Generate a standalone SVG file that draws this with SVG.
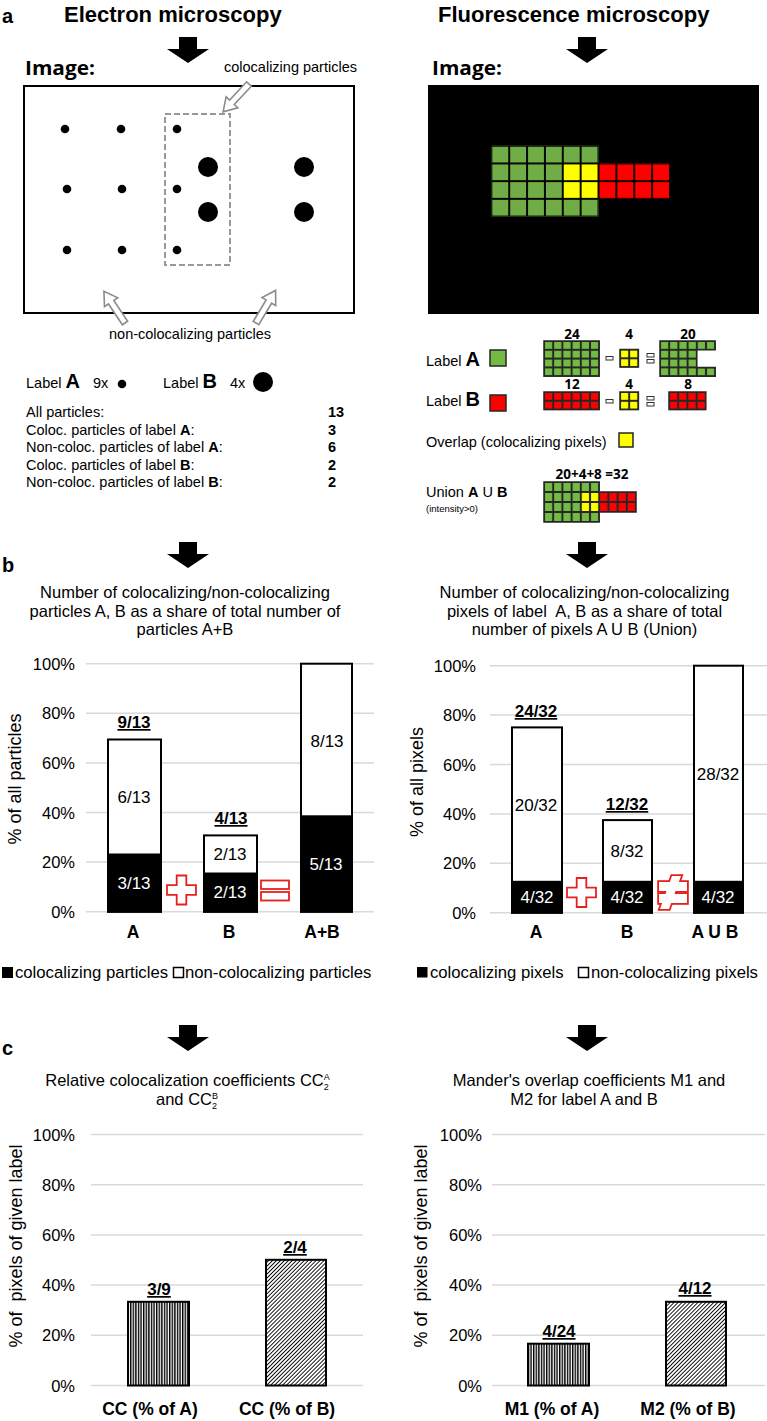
<svg xmlns="http://www.w3.org/2000/svg" width="767" height="1421" viewBox="0 0 767 1421">
<style>
text{font-family:'Liberation Sans',Arial,Helvetica,sans-serif;fill:#000}
.hd{font-size:22px;font-weight:bold}
.lt{font-size:20px;font-weight:bold}
.img{font-family:'Open Sans','Liberation Sans',sans-serif;font-size:19px;font-weight:bold}
.cal{font-family:'Open Sans','Liberation Sans',sans-serif;font-size:13.5px;font-weight:bold;text-anchor:middle}
.s14{font-size:14.5px}
.ttl{font-size:16.5px;text-anchor:middle}
.tick{font-size:16.5px;text-anchor:end}
.yt{font-size:18px;text-anchor:middle}
.dl{font-size:17px;text-anchor:middle}
.w{fill:#fff}
.top{font-size:17px;font-weight:bold;text-anchor:middle;text-decoration:underline}
.xl{font-size:17.5px;font-weight:bold;text-anchor:middle}
.leg{font-size:16.7px}
.gl{stroke:#d9d9d9;stroke-width:1.5}
.bar{stroke:#000;stroke-width:2}
.pt{fill:#fff;stroke:#8c8c8c;stroke-width:1.6}
.red{fill:#fff;stroke:#e8201c;stroke-width:1.8}
.ob{fill:none;stroke:#262626;stroke-width:1.5}
.sq{stroke:#262626;stroke-width:1.5}
.op{fill:#fff;stroke:#333;stroke-width:1}
.gA{fill:#74BB44}
.rB{fill:#FF0000}
.yO{fill:#FFFF00}
</style>
<defs>
<path id="bigArrow" d="M-9,0 H9 V12 H21 L0,26 L-21,12 H-9 Z" fill="#000"/>
<polygon id="hollow" points="0,-3.2 25,-3.2 25,-8 38,0 25,8 25,3.2 0,3.2"/>
<polygon id="plus" points="-4.8,-14.5 4.8,-14.5 4.8,-4.8 14.5,-4.8 14.5,4.8 4.8,4.8 4.8,14.5 -4.8,14.5 -4.8,4.8 -14.5,4.8 -14.5,-4.8 -4.8,-4.8"/>
<pattern id="pg" width="9.2" height="8.8" patternUnits="userSpaceOnUse"><rect width="9.2" height="8.8" fill="none" stroke="#262626" stroke-width="2"/></pattern>
<pattern id="pu" width="9.2" height="10" patternUnits="userSpaceOnUse"><rect width="9.2" height="10" fill="none" stroke="#262626" stroke-width="2"/></pattern>
<pattern id="pim" width="17.86" height="17.7" patternUnits="userSpaceOnUse"><rect width="17.86" height="17.7" fill="none" stroke="#000" stroke-width="1.9"/></pattern>
<pattern id="vs" width="2.6" height="10" patternUnits="userSpaceOnUse"><rect width="1.4" height="10" fill="#000"/></pattern>
<pattern id="ds" width="2.8" height="2.8" patternUnits="userSpaceOnUse" patternTransform="rotate(45)"><rect width="0.9" height="2.8" fill="#000"/></pattern>
</defs>

<g id="headings">
<text class="lt" x="2" y="23">a</text>
<text class="hd" x="64" y="22">Electron microscopy</text>
<text class="hd" x="438" y="22">Fluorescence microscopy</text>
<text class="lt" x="2" y="572">b</text>
<text class="lt" x="2" y="1055">c</text>
</g>

<g id="flow-arrows">
<use href="#bigArrow" transform="translate(188,37)"/>
<use href="#bigArrow" transform="translate(587,37)"/>
<use href="#bigArrow" transform="translate(188,542)"/>
<use href="#bigArrow" transform="translate(587,542)"/>
<use href="#bigArrow" transform="translate(188,1025)"/>
<use href="#bigArrow" transform="translate(587,1025)"/>
</g>

<g id="em-image">
<text class="img" x="25" y="75" textLength="70" lengthAdjust="spacingAndGlyphs">Image:</text>
<text class="s14" x="224" y="72">colocalizing particles</text>
<rect x="24" y="86" width="330" height="227" fill="#fff" stroke="#000" stroke-width="2"/>
<rect x="165" y="114" width="65" height="151" fill="none" stroke="#999" stroke-width="2" stroke-dasharray="6 3"/>
<g fill="#000">
<circle cx="65" cy="129" r="4.3"/><circle cx="121" cy="129" r="4.3"/><circle cx="177" cy="129" r="4.3"/>
<circle cx="67" cy="189" r="4.3"/><circle cx="122" cy="189" r="4.3"/><circle cx="177" cy="189" r="4.3"/>
<circle cx="67" cy="250" r="4.3"/><circle cx="122" cy="250" r="4.3"/><circle cx="177" cy="250" r="4.3"/>
<circle cx="208" cy="167" r="10"/><circle cx="208" cy="212" r="10"/>
<circle cx="304" cy="167" r="10"/><circle cx="304" cy="212" r="10"/>
</g>
<use href="#hollow" class="pt" transform="translate(249,84) rotate(133)"/>
<use href="#hollow" class="pt" transform="translate(125,323) rotate(-123.7)"/>
<use href="#hollow" class="pt" transform="translate(256,323) rotate(-59)"/>
<text class="s14" x="109" y="339">non-colocalizing particles</text>
</g>

<g id="em-legend">
<text class="s14" x="26" y="388">Label <tspan font-size="20" font-weight="bold">A</tspan></text>
<text class="s14" x="93" y="388">9x</text>
<circle cx="122" cy="384" r="4.3"/>
<text class="s14" x="163" y="388">Label <tspan font-size="20" font-weight="bold">B</tspan></text>
<text class="s14" x="230" y="388">4x</text>
<circle cx="263" cy="382" r="10"/>
<text class="s14" x="26" y="417">All particles:</text>
<text class="s14" x="26" y="434.5">Coloc. particles of label <tspan font-weight="bold">A</tspan>:</text>
<text class="s14" x="26" y="452">Non-coloc. particles of label <tspan font-weight="bold">A</tspan>:</text>
<text class="s14" x="26" y="469.5">Coloc. particles of label <tspan font-weight="bold">B</tspan>:</text>
<text class="s14" x="26" y="487">Non-coloc. particles of label <tspan font-weight="bold">B</tspan>:</text>
<g font-weight="bold">
<text class="s14" x="328" y="417">13</text>
<text class="s14" x="328" y="434.5">3</text>
<text class="s14" x="328" y="452">6</text>
<text class="s14" x="328" y="469.5">2</text>
<text class="s14" x="328" y="487">2</text>
</g>
</g>

<g id="fm-image">
<text class="img" x="432" y="75" textLength="70" lengthAdjust="spacingAndGlyphs">Image:</text>
<rect x="428" y="85" width="331" height="229" fill="#000"/>
<g transform="translate(491.35,145.75)">
<rect x="0" y="0" width="107.16" height="70.8" fill="#70AD47"/>
<rect x="71.44" y="17.7" width="35.72" height="35.4" fill="#FFFF00"/>
<rect x="107.16" y="17.7" width="71.44" height="35.4" fill="#FF0000"/>
<path d="M0,0 H107.16 V17.7 H178.6 V53.1 H107.16 V70.8 H0 Z" fill="url(#pim)"/>
</g>
</g>

<g id="fm-legend">
<text class="s14" x="426" y="366">Label <tspan font-size="20" font-weight="bold">A</tspan></text>
<rect x="490" y="350" width="16" height="16" class="gA sq"/>
<text class="s14" x="426" y="406">Label <tspan font-size="20" font-weight="bold">B</tspan></text>
<rect x="490" y="395" width="16" height="16" class="rB sq"/>
<text class="s14" x="426" y="447">Overlap (colocalizing pixels)</text>
<rect x="619" y="433" width="14" height="14" class="yO sq"/>
<text class="s14" x="426" y="497">Union <tspan font-weight="bold">A</tspan> U <tspan font-weight="bold">B</tspan></text>
<text x="426" y="512" font-size="9.5">(intensity&gt;0)</text>

<text class="cal" x="572" y="339">24</text>
<text class="cal" x="629" y="339">4</text>
<text class="cal" x="688" y="339">20</text>
<text class="cal" x="572" y="389">12</text>
<text class="cal" x="629" y="389">4</text>
<text class="cal" x="688" y="389">8</text>
<text class="cal" x="592" y="479">20+4+8 =32</text>

<g transform="translate(544,341)">
<rect width="55.2" height="35.2" class="gA"/><rect width="55.2" height="35.2" fill="url(#pg)"/><rect width="55.2" height="35.2" class="ob"/>
</g>
<rect x="606" y="356.5" width="7" height="3.5" class="op"/>
<g transform="translate(620,349.5)">
<rect width="18.4" height="17.6" class="yO"/><rect width="18.4" height="17.6" fill="url(#pg)"/><rect width="18.4" height="17.6" class="ob"/>
</g>
<rect x="647" y="353.5" width="7" height="3.5" class="op"/>
<rect x="647" y="359.5" width="7" height="3.5" class="op"/>
<g transform="translate(660,341)">
<path d="M0,0 H55.2 V8.8 H36.8 V26.4 H55.2 V35.2 H0 Z" class="gA"/>
<path d="M0,0 H55.2 V8.8 H36.8 V26.4 H55.2 V35.2 H0 Z" fill="url(#pg)"/>
<path d="M0,0 H55.2 V8.8 H36.8 V26.4 H55.2 V35.2 H0 Z" class="ob"/>
</g>

<g transform="translate(544,392)">
<rect width="55.2" height="17.6" class="rB"/><rect width="55.2" height="17.6" fill="url(#pg)"/><rect width="55.2" height="17.6" class="ob"/>
</g>
<rect x="606" y="399.5" width="7" height="3.5" class="op"/>
<g transform="translate(620,392)">
<rect width="18.4" height="17.6" class="yO"/><rect width="18.4" height="17.6" fill="url(#pg)"/><rect width="18.4" height="17.6" class="ob"/>
</g>
<rect x="647" y="396.5" width="7" height="3.5" class="op"/>
<rect x="647" y="402.5" width="7" height="3.5" class="op"/>
<g transform="translate(669,392)">
<rect width="36.8" height="17.6" class="rB"/><rect width="36.8" height="17.6" fill="url(#pg)"/><rect width="36.8" height="17.6" class="ob"/>
</g>

<g transform="translate(544,482)">
<rect width="55.2" height="40" class="gA"/>
<rect x="36.8" y="10" width="18.4" height="20" class="yO"/>
<rect x="55.2" y="10" width="36.8" height="20" class="rB"/>
<path d="M0,0 H55.2 V10 H92 V30 H55.2 V40 H0 Z" fill="url(#pu)"/>
<path d="M0,0 H55.2 V10 H92 V30 H55.2 V40 H0 Z" class="ob"/>
</g>
</g>

<g id="chart-b-left">
<text class="ttl" x="185" y="598.3">Number of colocalizing/non-colocalizing</text>
<text class="ttl" x="185" y="616.7">particles A, B as a share of total number of</text>
<text class="ttl" x="185" y="635">particles A+B</text>
<g class="gl">
<line x1="86" y1="663.7" x2="374" y2="663.7"/><line x1="86" y1="713.3" x2="374" y2="713.3"/>
<line x1="86" y1="762.9" x2="374" y2="762.9"/><line x1="86" y1="812.5" x2="374" y2="812.5"/>
<line x1="86" y1="862.1" x2="374" y2="862.1"/><line x1="86" y1="911.7" x2="374" y2="911.7"/>
</g>
<text class="tick" x="75" y="669.7">100%</text><text class="tick" x="75" y="719.3">80%</text>
<text class="tick" x="75" y="768.9">60%</text><text class="tick" x="75" y="818.5">40%</text>
<text class="tick" x="75" y="868.1">20%</text><text class="tick" x="75" y="917.7">0%</text>
<text class="yt" transform="translate(21,779) rotate(-90)">% of all particles</text>
<rect x="108" y="739.5" width="53" height="172.2" fill="#fff" class="bar"/>
<rect x="108" y="854.5" width="53" height="57.2" fill="#000" class="bar"/>
<rect x="204" y="835.4" width="53" height="76.3" fill="#fff" class="bar"/>
<rect x="204" y="873.5" width="53" height="38.2" fill="#000" class="bar"/>
<rect x="301" y="663.7" width="51" height="248" fill="#fff" class="bar"/>
<rect x="301" y="816.3" width="51" height="95.4" fill="#000" class="bar"/>
<text class="top" x="134" y="728">9/13</text>
<text class="dl" x="134" y="803">6/13</text>
<text class="dl w" x="134" y="889">3/13</text>
<text class="top" x="231" y="824">4/13</text>
<text class="dl" x="230" y="860">2/13</text>
<text class="dl w" x="230" y="898">2/13</text>
<text class="dl" x="327" y="747">8/13</text>
<text class="dl w" x="326" y="870">5/13</text>
<use href="#plus" class="red" transform="translate(181.5,890)"/>
<rect x="261" y="880.5" width="28" height="8.5" class="red"/>
<rect x="261" y="892" width="28" height="8.5" class="red"/>
<text class="xl" x="133" y="938">A</text>
<text class="xl" x="229" y="938">B</text>
<text class="xl" x="322" y="938">A+B</text>
<rect x="2" y="967" width="11" height="11" fill="#000"/>
<text class="leg" x="15" y="978">colocalizing particles</text>
<rect x="173.5" y="967.5" width="10" height="10" fill="#fff" stroke="#000" stroke-width="1.5"/>
<text class="leg" x="185" y="978">non-colocalizing particles</text>
</g>

<g id="chart-b-right">
<text class="ttl" x="584.5" y="598.3">Number of colocalizing/non-colocalizing</text>
<text class="ttl" x="584.5" y="616.7" style="white-space:pre">pixels of label  A, B as a share of total</text>
<text class="ttl" x="584.5" y="635">number of pixels A U B (Union)</text>
<g class="gl">
<line x1="490" y1="665.7" x2="767" y2="665.7"/><line x1="490" y1="715.1" x2="767" y2="715.1"/>
<line x1="490" y1="764.5" x2="767" y2="764.5"/><line x1="490" y1="813.9" x2="767" y2="813.9"/>
<line x1="490" y1="863.3" x2="767" y2="863.3"/><line x1="490" y1="912.7" x2="767" y2="912.7"/>
</g>
<text class="tick" x="476" y="671.7">100%</text><text class="tick" x="476" y="721.1">80%</text>
<text class="tick" x="476" y="770.5">60%</text><text class="tick" x="476" y="819.9">40%</text>
<text class="tick" x="476" y="869.3">20%</text><text class="tick" x="476" y="918.7">0%</text>
<text class="yt" transform="translate(423,782) rotate(-90)">% of all pixels</text>
<rect x="512" y="727.4" width="50" height="185.3" fill="#fff" class="bar"/>
<rect x="512" y="881.8" width="50" height="30.9" fill="#000" class="bar"/>
<rect x="603" y="820.1" width="49" height="92.6" fill="#fff" class="bar"/>
<rect x="603" y="881.8" width="49" height="30.9" fill="#000" class="bar"/>
<rect x="694" y="665.7" width="49" height="247" fill="#fff" class="bar"/>
<rect x="694" y="881.8" width="49" height="30.9" fill="#000" class="bar"/>
<text class="top" x="536" y="717">24/32</text>
<text class="dl" x="536" y="811">20/32</text>
<text class="dl w" x="537" y="903">4/32</text>
<text class="top" x="627" y="810">12/32</text>
<text class="dl" x="627" y="857">8/32</text>
<text class="dl w" x="627" y="903">4/32</text>
<text class="dl" x="718" y="780">28/32</text>
<text class="dl w" x="718" y="903">4/32</text>
<use href="#plus" class="red" transform="translate(581.5,892.5)"/>
<g stroke="#e8201c" stroke-width="3.6" fill="#e8201c">
<rect x="659" y="882" width="28" height="9"/>
<rect x="659" y="894" width="28" height="9"/>
<polygon points="672,876 681,876 669,909 660,909"/>
</g>
<g fill="#fff">
<rect x="659" y="882" width="28" height="9"/>
<rect x="659" y="894" width="28" height="9"/>
<polygon points="672,876 681,876 669,909 660,909"/>
</g>
<text class="xl" x="536" y="938">A</text>
<text class="xl" x="627" y="938">B</text>
<text class="xl" x="715" y="938">A U B</text>
<rect x="417" y="967" width="10.5" height="10.5" fill="#000"/>
<text class="leg" x="430" y="978">colocalizing pixels</text>
<rect x="578.5" y="967.5" width="10" height="10" fill="#fff" stroke="#000" stroke-width="1.5"/>
<text class="leg" x="591" y="978">non-colocalizing pixels</text>
</g>

<g id="chart-c-left">
<text class="ttl" x="187.5" y="1086">Relative colocalization coefficients CC<tspan font-size="9" dy="-6">A</tspan><tspan font-size="9" dx="-6" dy="10">2</tspan></text>
<text class="ttl" x="187" y="1105">and CC<tspan font-size="9" dy="-6">B</tspan><tspan font-size="9" dx="-6" dy="10">2</tspan></text>
<g class="gl">
<line x1="91" y1="1134.5" x2="363" y2="1134.5"/><line x1="91" y1="1184.7" x2="363" y2="1184.7"/>
<line x1="91" y1="1234.9" x2="363" y2="1234.9"/><line x1="91" y1="1285.1" x2="363" y2="1285.1"/>
<line x1="91" y1="1335.3" x2="363" y2="1335.3"/><line x1="91" y1="1385.5" x2="363" y2="1385.5"/>
</g>
<text class="tick" x="75" y="1140.5">100%</text><text class="tick" x="75" y="1190.7">80%</text>
<text class="tick" x="75" y="1240.9">60%</text><text class="tick" x="75" y="1291.1">40%</text>
<text class="tick" x="75" y="1341.3">20%</text><text class="tick" x="75" y="1391.5">0%</text>
<text class="yt" style="white-space:pre" transform="translate(22,1246) rotate(-90)">% of  pixels of given label</text>
<rect x="128" y="1301.8" width="61" height="83.7" fill="#fff"/>
<rect x="128" y="1301.8" width="61" height="83.7" fill="url(#vs)" class="bar"/>
<rect x="266" y="1259.8" width="60" height="125.7" fill="#fff"/>
<rect x="266" y="1259.8" width="60" height="125.7" fill="url(#ds)" class="bar"/>
<text class="top" x="159" y="1295">3/9</text>
<text class="top" x="295" y="1253">2/4</text>
<text class="xl" x="150" y="1415">CC (% of A)</text>
<text class="xl" x="287" y="1415">CC (% of B)</text>
</g>

<g id="chart-c-right">
<text class="ttl" x="589" y="1086">Mander's overlap coefficients M1 and</text>
<text class="ttl" x="584" y="1105">M2 for label A and B</text>
<g class="gl">
<line x1="492" y1="1134.5" x2="765" y2="1134.5"/><line x1="492" y1="1184.7" x2="765" y2="1184.7"/>
<line x1="492" y1="1234.9" x2="765" y2="1234.9"/><line x1="492" y1="1285.1" x2="765" y2="1285.1"/>
<line x1="492" y1="1335.3" x2="765" y2="1335.3"/><line x1="492" y1="1385.5" x2="765" y2="1385.5"/>
</g>
<text class="tick" x="482" y="1140.5">100%</text><text class="tick" x="482" y="1190.7">80%</text>
<text class="tick" x="482" y="1240.9">60%</text><text class="tick" x="482" y="1291.1">40%</text>
<text class="tick" x="482" y="1341.3">20%</text><text class="tick" x="482" y="1391.5">0%</text>
<text class="yt" style="white-space:pre" transform="translate(427,1246) rotate(-90)">% of  pixels of given label</text>
<rect x="528" y="1343.7" width="61" height="41.8" fill="#fff"/>
<rect x="528" y="1343.7" width="61" height="41.8" fill="url(#vs)" class="bar"/>
<rect x="666" y="1301.8" width="60" height="83.7" fill="#fff"/>
<rect x="666" y="1301.8" width="60" height="83.7" fill="url(#ds)" class="bar"/>
<text class="top" x="559" y="1337">4/24</text>
<text class="top" x="695" y="1294">4/12</text>
<text class="xl" x="552" y="1415">M1 (% of A)</text>
<text class="xl" x="688" y="1415">M2 (% of B)</text>
</g>
</svg>
